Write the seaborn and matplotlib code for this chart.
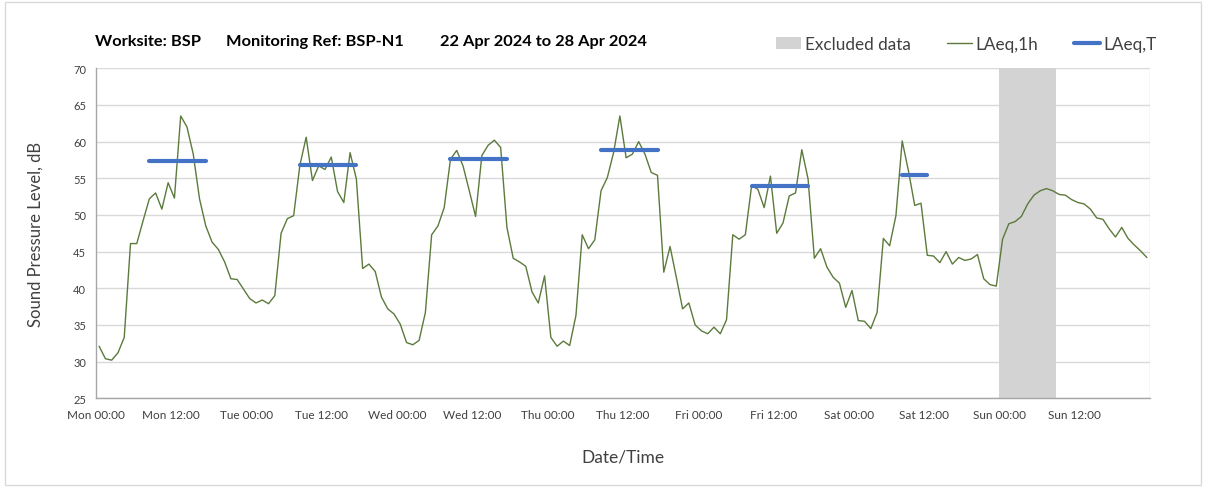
import numpy as np
import pandas as pd
import matplotlib
matplotlib.use("Agg")
import matplotlib.pyplot as plt
from matplotlib.patches import Patch, Rectangle
from matplotlib.lines import Line2D
import seaborn as sns

# Hourly LAeq,1h values (dB), one list per day, hours 00-23
mon = [32.1, 30.4, 30.2, 31.2, 33.3, 46.1, 46.1, 49.2, 52.2, 53.0, 50.8, 54.4,
       52.3, 63.5, 62.0, 58.3, 52.2, 48.5, 46.3, 45.3, 43.6, 41.3, 41.2, 39.9]
tue = [38.6, 38.0, 38.4, 37.9, 39.0, 47.5, 49.5, 49.9, 56.8, 60.6, 54.7, 56.7,
       56.2, 57.9, 53.2, 51.7, 58.5, 54.9, 42.7, 43.3, 42.3, 38.8, 37.2, 36.5]
wed = [35.1, 32.6, 32.3, 32.9, 36.7, 47.3, 48.5, 51.0, 57.6, 58.8, 56.7, 53.3,
       49.8, 58.1, 59.5, 60.2, 59.2, 48.3, 44.1, 43.6, 43.0, 39.5, 38.0, 41.7]
thu = [33.3, 32.1, 32.8, 32.2, 36.3, 47.3, 45.4, 46.6, 53.3, 55.1, 58.5, 63.5,
       57.8, 58.3, 60.0, 58.3, 55.8, 55.4, 42.2, 45.7, 41.5, 37.2, 38.0, 35.0]
fri = [34.2, 33.8, 34.7, 33.8, 35.7, 47.3, 46.7, 47.3, 54.0, 53.5, 51.0, 55.3,
       47.5, 48.9, 52.6, 53.0, 58.9, 54.9, 44.1, 45.4, 42.9, 41.5, 40.7, 37.4]
sat = [39.7, 35.6, 35.5, 34.5, 36.7, 46.8, 45.8, 49.9, 60.1, 56.0, 51.3, 51.6,
       44.5, 44.4, 43.5, 45.0, 43.3, 44.2, 43.8, 44.0, 44.6, 41.3, 40.5, 40.3]
sun = [46.7, 48.8, 49.1, 49.8, 51.5, 52.7, 53.3, 53.6, 53.3, 52.8, 52.7, 52.1,
       51.7, 51.5, 50.8, 49.6, 49.4, 48.1, 47.0, 48.3, 46.8, 45.9, 45.1, 44.2]

days = ["Mon", "Tue", "Wed", "Thu", "Fri", "Sat", "Sun"]

# LAeq,T working periods (day index, start hour, end hour, level)
period_day = [0, 1, 2, 3, 4, 5]
period_start = [8, 8, 8, 8, 8, 8]
period_end = [18, 18, 18, 18, 18, 13]
period_level = [57.4, 56.8, 57.6, 58.8, 54.0, 55.5]

# Excluded data window (hours from Mon 00:00)
excluded_start = 144
excluded_end = 153

title_parts = ["Worksite: BSP", "Monitoring Ref: BSP-N1", "22 Apr 2024 to 28 Apr 2024"]

# build hourly table, each point at middle of its hour
levels = mon + tue + wed + thu + fri + sat + sun
df = pd.DataFrame({"hour": np.arange(len(levels)) + 0.5, "LAeq": levels})

rows = []
for d, s, e, lv in zip(period_day, period_start, period_end, period_level):
    rows.append({"period": d, "hour": d * 24 + s + 0.5, "LAeq": lv})
    rows.append({"period": d, "hour": d * 24 + e - 0.5, "LAeq": lv})
df_t = pd.DataFrame(rows)

sns.set_style("white")
plt.rcParams["font.family"] = ["Lato", "DejaVu Sans"]

fig = plt.figure(figsize=(12.08, 4.89), dpi=100)
ax = fig.add_axes([96 / 1208, 1 - 399.3 / 489, 1054 / 1208, 330 / 489])

green = "#5b7a3c"
blue = "#4472c4"
grey_txt = "#404040"

ax.axvspan(excluded_start, excluded_end, color="#d3d3d3", lw=0, zorder=1)
sns.lineplot(data=df, x="hour", y="LAeq", color=green, lw=1.0, ax=ax, zorder=3)
sns.lineplot(data=df_t, x="hour", y="LAeq", units="period", estimator=None,
             color=blue, lw=3, ax=ax, zorder=4)

ax.set_xlim(0, 168)
ax.set_ylim(25, 70)
ax.set_yticks(np.arange(25, 71, 5))
ax.set_xticks(np.arange(0, 168, 12))
ax.set_xticklabels([f"{days[i // 2]} {'00:00' if i % 2 == 0 else '12:00'}" for i in range(14)])
ax.set_xticks(np.arange(0, 169, 24), minor=True)

ax.grid(False)
ax.yaxis.grid(True, color="#d9d9d9", lw=1)
ax.xaxis.grid(True, which="minor", color="#d9d9d9", lw=1)
ax.set_axisbelow(True)

for side in ["top", "right"]:
    ax.spines[side].set_visible(False)
for side in ["left", "bottom"]:
    ax.spines[side].set_color("#a6a6a6")
    ax.spines[side].set_linewidth(1)

ax.tick_params(axis="both", which="major", direction="out", length=4,
               color="#a6a6a6", labelcolor=grey_txt)
ax.tick_params(axis="x", which="major", labelsize=8.5, pad=4)
ax.tick_params(axis="y", which="major", labelsize=8, pad=3)
ax.tick_params(axis="x", which="minor", length=0)

ax.set_xlabel("Date/Time", fontsize=12.5, color=grey_txt, labelpad=20)
ax.set_ylabel("Sound Pressure Level, dB", fontsize=12, color=grey_txt, labelpad=21)

for txt, xpix in zip(title_parts, [95, 226, 440]):
    fig.text(xpix / 1208, 1 - 42 / 489, txt, fontsize=11.8, fontweight="bold",
             color="black", va="center")

handles = [Patch(facecolor="#d3d3d3", edgecolor="none"),
           Line2D([0], [0], color=green, lw=1),
           Line2D([0], [0], color=blue, lw=3)]
fig.legend(handles, ["Excluded data", "LAeq,1h", "LAeq,T"], ncol=3,
           loc="center right", bbox_to_anchor=(1172 / 1208, 1 - 45 / 489),
           frameon=False, fontsize=12.3, handlelength=1.5, handleheight=0.7,
           columnspacing=2.1, handletextpad=0.2, labelcolor=grey_txt)

fig.patches.append(Rectangle((0.004, 0.006), 0.99, 0.988, transform=fig.transFigure,
                             fill=False, edgecolor="#d9d9d9", lw=1))

fig.savefig("out.png", dpi=100)
